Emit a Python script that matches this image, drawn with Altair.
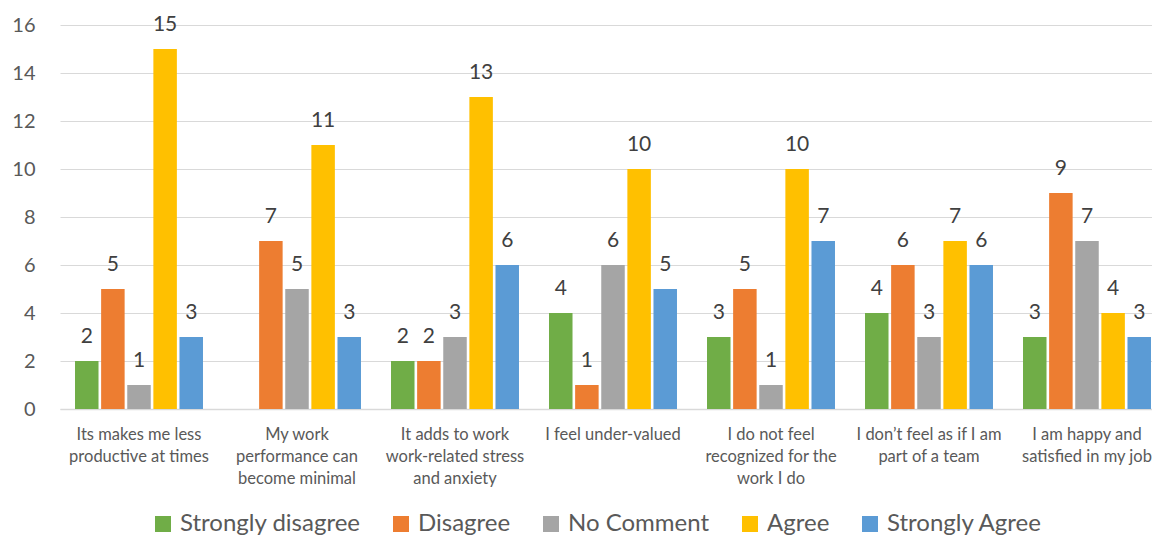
import altair as alt
import pandas as pd

categories = [
    "Its makes me less|productive at times",
    "My work|performance can|become minimal",
    "It adds to work|work-related stress|and anxiety",
    "I feel under-valued",
    "I do not feel|recognized for the|work I do",
    "I don\u2019t feel as if I am|part of a team",
    "I am happy and|satisfied in my job",
]
series = ["Strongly disagree", "Disagree", "No Comment", "Agree", "Strongly Agree"]
colors = ["#70AD47", "#ED7D31", "#A5A5A5", "#FFC000", "#5B9BD5"]

strongly_disagree = [2, 0, 2, 4, 3, 4, 3]
disagree = [5, 7, 2, 1, 5, 6, 9]
no_comment = [1, 5, 3, 6, 1, 3, 7]
agree = [15, 11, 13, 10, 10, 7, 4]
strongly_agree = [3, 3, 6, 5, 7, 6, 3]

values = [strongly_disagree, disagree, no_comment, agree, strongly_agree]
rows = []
for s, vals in zip(series, values):
    for c, v in zip(categories, vals):
        rows.append({"cat": c, "series": s, "value": v})
df = pd.DataFrame(rows)

FONT = "Lato"

x = alt.X("cat:N", sort=categories, title=None,
          scale=alt.Scale(paddingInner=0.19, paddingOuter=0.095, range=[0, 1106]),
          axis=alt.Axis(labelExpr="split(datum.value, '|')", labelAngle=0,
                        labelFontSize=16.5, labelColor="#595959", labelFont=FONT,
                        labelLineHeight=22, labelPadding=17, ticks=False,
                        domainColor="#D9D9D9", domainWidth=1.5, grid=False,
                        labelLimit=200))
xo = alt.XOffset("series:N", sort=series,
                 scale=alt.Scale(paddingInner=0.1, paddingOuter=0.0))
y = alt.Y("value:Q", title=None,
          scale=alt.Scale(domain=[0, 16], nice=False),
          axis=alt.Axis(values=list(range(0, 17, 2)), domain=False, ticks=False,
                        labelFontSize=20, labelColor="#595959", labelFont=FONT,
                        labelPadding=25, gridColor="#D9D9D9", gridWidth=1.2))
color = alt.Color("series:N", sort=series,
                  scale=alt.Scale(domain=series, range=colors),
                  legend=alt.Legend(title=None, orient="none", direction="horizontal",
                                    legendX=91, legendY=487,
                                    labelFontSize=24, labelFont=FONT, labelColor="#595959",
                                    labelLimit=400,
                                    symbolType="square", symbolSize=256,
                                    symbolStrokeWidth=0, columnPadding=28,
                                    labelOffset=5))

base = alt.Chart(df).transform_filter("datum.value > 0")
bars = base.mark_bar().encode(x=x, xOffset=xo, y=y, color=color)
labels = base.mark_text(dy=-18, baseline="alphabetic", fontSize=21, font=FONT,
                        color="#404040").encode(
    x=x, xOffset=xo, y=y, text="value:Q")

chart = (bars + labels).properties(
    width=1092, height=384,
    autosize=alt.AutoSizeParams(type="none"),
    padding={"left": 52, "top": 17, "right": 0, "bottom": 126},
).configure_view(stroke=None)

chart.save("out.html", embed_options={"renderer": "svg", "actions": False})
